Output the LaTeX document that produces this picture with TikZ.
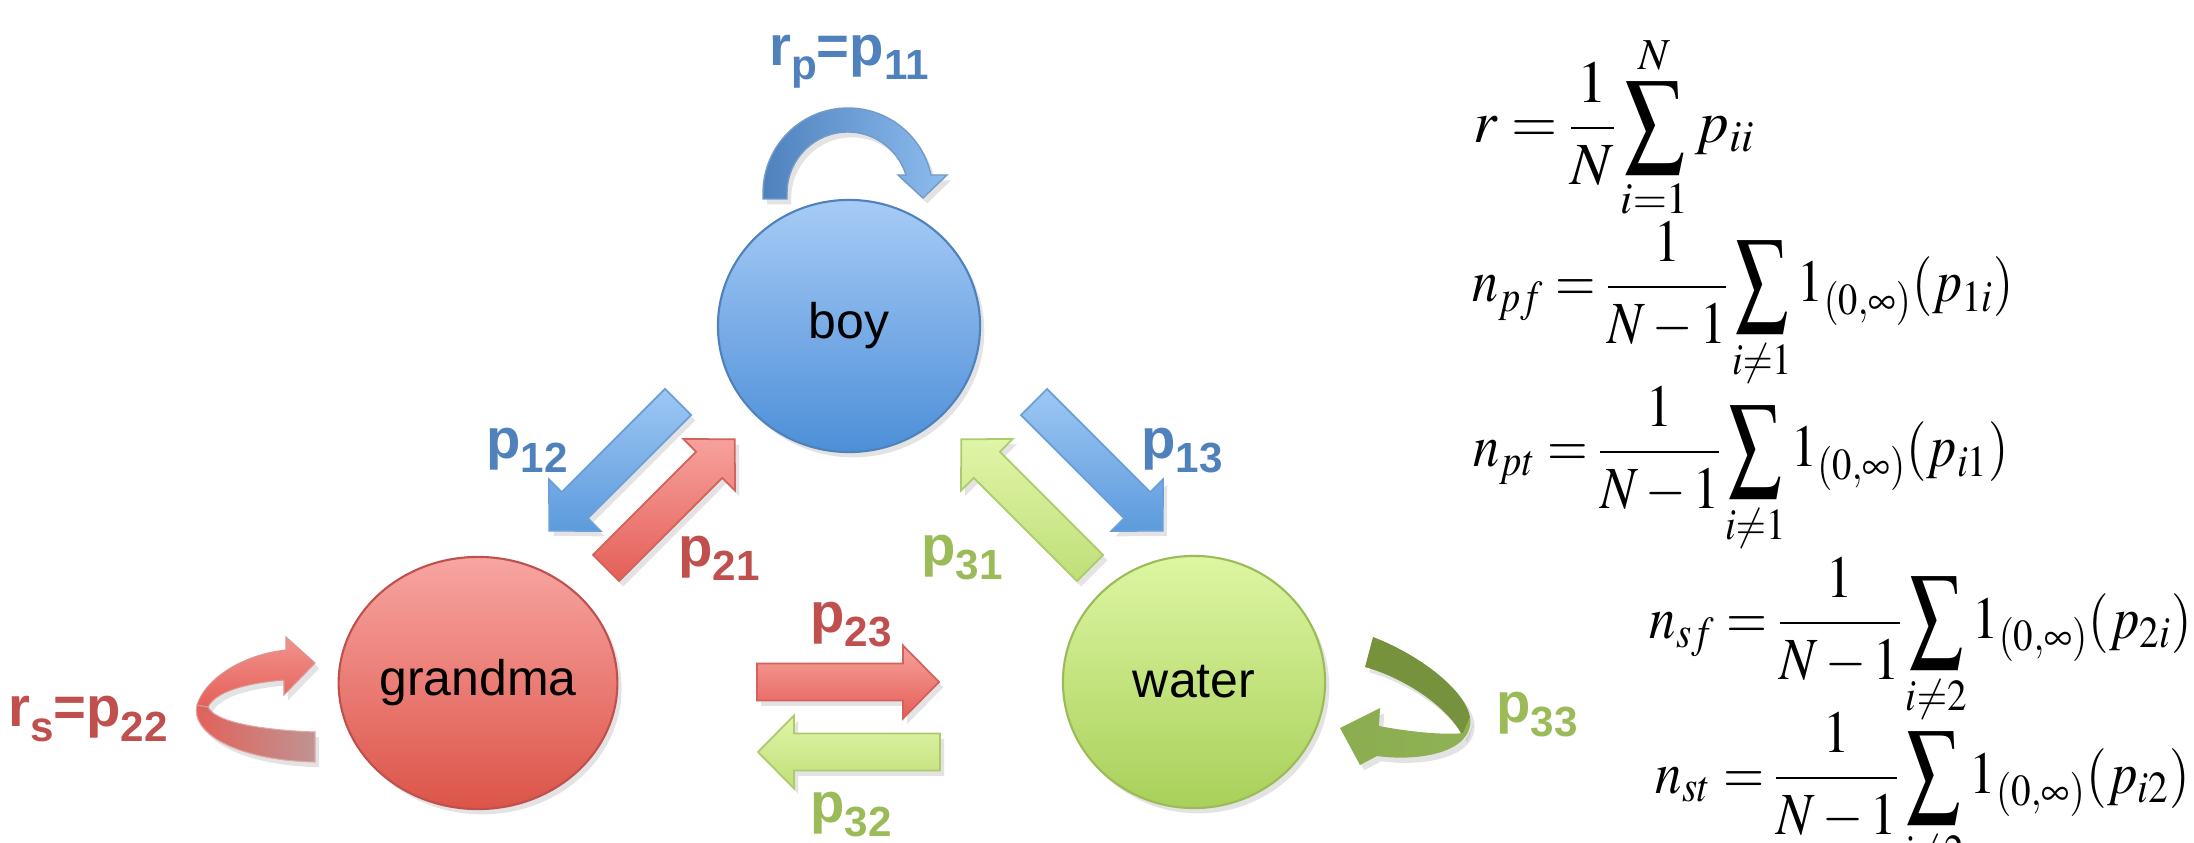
\documentclass[tikz,border=0pt]{standalone}
\usepackage{graphicx}
\usepackage{mathptmx}
\usepackage[no-math]{fontspec}
\newfontfamily\arialfont{Liberation Sans}
\definecolor{boytop}{HTML}{A7CBF6}
\definecolor{boybot}{HTML}{4D8FD8}
\definecolor{boyline}{HTML}{4F81BD}
\definecolor{grantop}{HTML}{F8A5A2}
\definecolor{granbot}{HTML}{DC5448}
\definecolor{granline}{HTML}{C0504D}
\definecolor{wattop}{HTML}{DDF6A2}
\definecolor{watbot}{HTML}{A9D05A}
\definecolor{watline}{HTML}{9BBB59}
\definecolor{lblblue}{HTML}{4F81BD}
\definecolor{lblred}{HTML}{C0504D}
\definecolor{lblgreen}{HTML}{9BBB59}
\definecolor{arrbluetop}{HTML}{9DC7F4}
\definecolor{arrbluebot}{HTML}{5C9BDC}
\definecolor{arrblueline}{HTML}{6C9FD9}
\definecolor{arrredtop}{HTML}{F7A19C}
\definecolor{arrredbot}{HTML}{E45F57}
\definecolor{arrredline}{HTML}{D2625C}
\definecolor{arrgreentop}{HTML}{E0F5A8}
\definecolor{arrgreenbot}{HTML}{BFDF78}
\definecolor{arrgreenline}{HTML}{ABCB6C}
\definecolor{olivedark}{HTML}{76923C}
\definecolor{olivelight}{HTML}{8FB254}
\usetikzlibrary{shapes.geometric,shadows}

% block arrow: tail point, rotation, style
\newcommand{\blockarrow}[3]{%
  \path[#3, shift={(#1)}, rotate=#2]
    (0,-18.5) -- (146,-18.5) -- (146,-36.5) -- (182,0) -- (146,36.5)
    -- (146,18.5) -- (0,18.5) -- cycle;}
\newcommand{\lsub}[1]{\raisebox{-4pt}{\fontsize{12}{12}\selectfont #1}}
% taller sum, as in the measures
\newcommand{\tsum}{\mathop{\vcenter{\hbox{\scalebox{1}[1.25]{$\displaystyle\sum$}}}}\limits}
% a measure squeezed to a given width
\newcommand{\eqline}[2]{\resizebox{#1}{\height}{$\displaystyle #2$}}

\begin{document}
\begin{tikzpicture}[x=0.01cm, y=-0.01cm,
  every node/.style={font=\arialfont},
  shd/.style={drop shadow={shadow xshift=1.2pt, shadow yshift=-1.5pt,
              opacity=0.22}},
  agent/.style={ellipse, minimum width=2.62cm, minimum height=2.52cm,
                inner sep=0pt, draw=#1line, line width=0.6pt,
                top color=#1top, bottom color=#1bot, shd,
                font=\arialfont\fontsize{14.2}{17}\selectfont},
  lbl/.style={inner sep=0pt, font=\arialfont\bfseries\fontsize{16}{19}\selectfont},
  arrowblue/.style={draw=arrblueline, line width=0.5pt,
                    top color=arrbluetop, bottom color=arrbluebot, shd},
  arrowred/.style={draw=arrredline, line width=0.5pt,
                   top color=arrredtop, bottom color=arrredbot, shd},
  arrowgreen/.style={draw=arrgreenline, line width=0.5pt,
                     top color=arrgreentop, bottom color=arrgreenbot, shd},
  loopblue/.style={draw=boyline!80, line width=0.4pt,
                   left color=boyline, right color=arrbluetop!80!boybot, shd},
  loopredup/.style={draw=granline!60, line width=0.3pt,
                    top color=arrredtop!80!arrredbot, bottom color=arrredbot, shd},
  loopredlow/.style={draw=granline!50, line width=0.3pt,
                     left color=arrredbot, right color=granline!55!gray!70, shd},
  loopgreendark/.style={fill=olivedark, shd},
  loopgreenlight/.style={left color=olivelight!85!olivedark, right color=olivelight, shd},
  eq/.style={anchor=base west, inner sep=0pt, font=\fontsize{17}{20}\selectfont,
             execute at begin node={\nulldelimiterspace=0pt
               \thickmuskip=4mu plus 2mu}}
]
\clip (0,0) rectangle (2194,843);
\fill[white] (0,0) rectangle (2194,843);

%% Agents
\node[agent=boy]  (boy)     at (849,326)  {boy};
\node[agent=gran] (grandma) at (478,683)  {grandma};
\node[agent=wat]  (water)   at (1194,682) {water};

%% Block arrows between the agents
\coordinate (t12) at (678,402);
\coordinate (t21) at (606,568);
\coordinate (t13) at (1034,402);
\coordinate (t31) at (1090,568);
\coordinate (t23) at (757,682);
\coordinate (t32) at (940,752);
\blockarrow{t12}{225}{arrowblue}
\blockarrow{t21}{45}{arrowred}
\blockarrow{t13}{-45}{arrowblue}
\blockarrow{t31}{135}{arrowgreen}
\blockarrow{t23}{0}{arrowred}
\blockarrow{t32}{180}{arrowgreen}

%% Self loops
\path[loopblue] (763,199) -- (763,193)
  .. controls (763,146) and (801,108) .. (848,108)
  .. controls (888,108) and (922.6,136) .. (931,175)
  -- (947,175) -- (923,198) -- (898,175) -- (906,175)
  .. controls (898,149.5) and (874.7,132) .. (848,132)
  .. controls (814.3,132) and (787,159.3) .. (787,193) -- (787,199) -- cycle;
\path[loopredlow] (197,705) .. controls (190,730) and (230,760) .. (315,762)
  -- (315,732) .. controls (260,730) and (215,722) .. (208,707) -- cycle;
\path[loopredup] (197,705) .. controls (205,680) and (240,655) .. (286,650)
  -- (286,637) -- (315,663) -- (284,695) -- (284,680)
  .. controls (245,683) and (215,692) .. (208,707) -- cycle;
\path[loopgreendark] (1373,637) .. controls (1420,655) and (1465,690) .. (1470,717)
  -- (1463,737) .. controls (1450,710) and (1410,680) .. (1365,667) -- cycle;
\path[loopgreenlight] (1470,717) .. controls (1475,752) and (1420,762) .. (1377,756)
  -- (1360,765) -- (1340,728) -- (1380,708) -- (1379,726)
  .. controls (1415,733) and (1450,735) .. (1463,733) -- cycle;

%% Labels
\node[lbl, text=lblblue]  (l11) at (849,62)   {r\lsub{p}=p\lsub{11}};
\node[lbl, text=lblblue]  (l12) at (527,450)  {p\lsub{12}};
\node[lbl, text=lblblue]  (l13) at (1182,451) {p\lsub{13}};
\node[lbl, text=lblred]   (l21) at (719,558)  {p\lsub{21}};
\node[lbl, text=lblgreen] (l31) at (962,558)  {p\lsub{31}};
\node[lbl, text=lblred]   (l23) at (851,625)  {p\lsub{23}};
\node[lbl, text=lblgreen] (l32) at (851,815)  {p\lsub{32}};
\node[lbl, text=lblred]   (l22) at (88,719)   {r\lsub{s}=p\lsub{22}};
\node[lbl, text=lblgreen] (l33) at (1537,715) {p\lsub{33}};

%% Measures
\node[eq] (eqr)  at (1473,143) {\eqline{2.82cm}{r=\frac{1}{N}\tsum_{i=1}^{N}p_{ii}}};
\node[eq] (eqpf) at (1472,302) {\eqline{5.41cm}{n_{pf}=\frac{1}{N-1}\tsum_{i\neq1}1_{(0,\infty)}(p_{1i})}};
\node[eq] (eqpt) at (1473,467) {\eqline{5.35cm}{n_{pt}=\frac{1}{N-1}\tsum_{i\neq1}1_{(0,\infty)}(p_{i1})}};
\node[eq] (eqsf) at (1649,638) {\eqline{5.42cm}{n_{sf}=\frac{1}{N-1}\tsum_{i\neq2}1_{(0,\infty)}(p_{2i})}};
\node[eq] (eqst) at (1655,793) {\eqline{5.34cm}{n_{st}=\frac{1}{N-1}\tsum_{i\neq2}1_{(0,\infty)}(p_{i2})}};

\end{tikzpicture}
\end{document}
